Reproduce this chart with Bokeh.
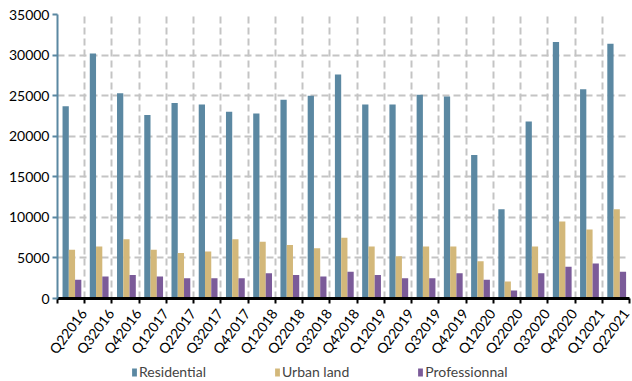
from bokeh.plotting import figure
from bokeh.layouts import column
from bokeh.models import ColumnDataSource, FixedTicker, Range1d, Legend, LegendItem
from bokeh.transform import dodge
from bokeh.embed import file_html
from bokeh.resources import INLINE

quarters = ["Q22016", "Q32016", "Q42016", "Q12017", "Q22017", "Q32017", "Q42017",
            "Q12018", "Q22018", "Q32018", "Q42018", "Q12019", "Q22019", "Q32019",
            "Q42019", "Q12020", "Q22020", "Q32020", "Q42020", "Q12021", "Q22021"]
residential = [23700, 30200, 25300, 22600, 24100, 23900, 23000, 22800, 24500, 25000,
               27600, 23900, 23900, 25100, 24900, 17700, 11000, 21800, 31600, 25800, 31400]
urban_land = [6000, 6400, 7300, 6000, 5600, 5800, 7300, 7000, 6600, 6200,
              7500, 6400, 5200, 6400, 6400, 4600, 2100, 6400, 9500, 8500, 11000]
professional = [2300, 2700, 2900, 2700, 2500, 2500, 2500, 3100, 2900, 2700,
                3300, 2900, 2500, 2500, 3100, 2300, 1000, 3100, 3900, 4300, 3300]
series_names = ["Residential", "Urban land", "Professionnal"]
colors = ["#5b88a2", "#d3b87a", "#7b5b99"]
y_ticks = [0, 5000, 10000, 15000, 20000, 25000, 30000, 35000]

FONT = "Lato"
n = len(quarters)
pos = [i + 0.5 for i in range(n)]
label_pos = [i + 0.95 for i in range(n)]
source = ColumnDataSource(dict(pos=pos, q=quarters, res=residential,
                               urb=urban_land, pro=professional))

p = figure(width=632, height=365, output_backend="svg", toolbar_location=None,
           x_range=Range1d(0, n), y_range=Range1d(0, 35000),
           min_border_left=57, min_border_right=3, min_border_top=14, min_border_bottom=67)
p.outline_line_color = None

bw = 0.23
p.vbar(x=dodge("pos", -0.2, range=p.x_range), top="res", width=bw, source=source,
       fill_color=colors[0], line_color=None)
p.vbar(x=dodge("pos", 0.03, range=p.x_range), top="urb", width=bw, source=source,
       fill_color=colors[1], line_color=None)
p.vbar(x=dodge("pos", 0.26, range=p.x_range), top="pro", width=bw, source=source,
       fill_color=colors[2], line_color=None)

# x axis
p.xaxis.ticker = FixedTicker(ticks=label_pos, minor_ticks=list(range(n + 1)))
p.xaxis.major_label_overrides = {lp: q for lp, q in zip(label_pos, quarters)}
p.xaxis.major_tick_out = 0
p.xaxis.major_tick_in = 0
p.xaxis.minor_tick_out = 5
p.xaxis.minor_tick_in = 0
p.xaxis.minor_tick_line_color = "black"
p.xaxis.minor_tick_line_width = 2
p.xaxis.axis_line_color = "black"
p.xaxis.axis_line_width = 3
p.xaxis.major_label_orientation = 0.93
p.xaxis.major_label_text_font = FONT
p.xaxis.major_label_text_font_size = "14px"
p.xaxis.major_label_text_color = "black"
p.xaxis.major_label_standoff = 7

# y axis
p.yaxis.ticker = FixedTicker(ticks=y_ticks)
p.yaxis.axis_line_color = colors[0]
p.yaxis.axis_line_width = 2
p.yaxis.major_tick_line_color = colors[0]
p.yaxis.major_tick_line_width = 2
p.yaxis.major_tick_out = 5
p.yaxis.major_tick_in = 0
p.yaxis.minor_tick_line_color = None
p.yaxis.major_label_text_font = FONT
p.yaxis.major_label_text_font_size = "14px"
p.yaxis.major_label_text_color = "black"
p.yaxis.major_label_standoff = 3

# grids
p.xgrid.ticker = FixedTicker(ticks=list(range(1, n + 1)))
for g in (p.xgrid, p.ygrid):
    g.grid_line_color = "#c4c4c4"
    g.grid_line_width = 2
    g.grid_line_dash = "7 4"
p.ygrid.ticker = FixedTicker(ticks=y_ticks[1:])

# legend strip
lg = figure(width=632, height=16, output_backend="svg", toolbar_location=None,
            x_range=Range1d(0, 1), y_range=Range1d(0, 1),
            x_axis_type=None, y_axis_type=None,
            min_border_left=0, min_border_right=0, min_border_top=0, min_border_bottom=0)
lg.outline_line_color = None
lg.xgrid.visible = False
lg.ygrid.visible = False
items = []
for name, c in zip(series_names, colors):
    r = lg.vbar(x=[float("nan")], top=[float("nan")], width=0.1, fill_color=c, line_color=None)
    items.append(LegendItem(label=name, renderers=[r]))
legend = Legend(items=items, orientation="horizontal", location=(74, 1),
                glyph_width=6, glyph_height=10, label_standoff=2, spacing=68,
                label_height=14, label_text_font=FONT, label_text_font_size="14px",
                border_line_color=None, background_fill_alpha=0,
                padding=0, margin=0)
lg.add_layout(legend, "center")

layout = column(p, lg, spacing=0)
open("out.html", "w").write(file_html(layout, INLINE))
